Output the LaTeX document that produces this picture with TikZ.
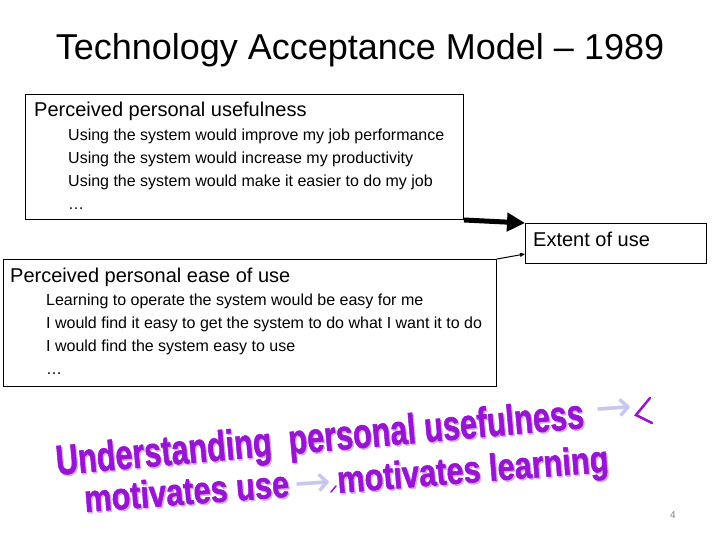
\documentclass[tikz,border=0pt]{standalone}
\usepackage{fontspec}
\usepackage{graphicx}
\setmainfont{Liberation Sans}
\newfontfamily\artfont{Liberation Sans}[FakeBold=1.5]
\newfontfamily\symfont{DejaVu Sans}
\usetikzlibrary{arrows.meta}
\definecolor{artpurple}{RGB}{150,20,210}
\definecolor{artlight}{RGB}{222,165,238}
\definecolor{artarrow}{RGB}{200,200,238}
\newcommand\artshade[1]{\makebox[0pt][l]{\kern1.6pt\raisebox{-1.6pt}{\color{artlight}#1}}#1}
\begin{document}
\begin{tikzpicture}[x=1pt,y=-1pt,
  box/.style={draw, line width=1pt, anchor=north west, inner sep=0pt},
  head/.style={anchor=base west, inner sep=0pt, font=\fontsize{20}{24}\selectfont},
  item/.style={anchor=base west, inner sep=0pt, font=\fontsize{16}{20}\selectfont},
  art/.style={anchor=base west, inner sep=0pt, text=artpurple, font=\artfont\bfseries},
  artarr/.style={inner sep=0pt, text=artarrow, font=\symfont\fontsize{44}{46}\selectfont}]
\useasboundingbox (0,0) rectangle (720,540);
\node[anchor=base, inner sep=0pt, font=\fontsize{36}{40}\selectfont] (title) at (360,60) {Technology Acceptance Model -- 1989};

\node[box, minimum width=438pt, minimum height=125pt] (pu) at (25,94) {};
\node[box, minimum width=493pt, minimum height=127pt] (eou) at (3,259) {};
\node[box, minimum width=181pt, minimum height=40pt] (use) at (525,223) {};

\node[head] (puhead) at (34,117) {Perceived personal usefulness};
\foreach \t [count=\i] in {Using the system would improve my job performance,
  Using the system would increase my productivity,
  Using the system would make it easier to do my job, \dots}
  \node[item] (pu\i) at (68,{140.5+23*(\i-1)}) {\t};

\node[head] (usehead) at (533,247) {Extent of use};

\node[head] (eouhead) at (10,282) {Perceived personal ease of use};
\foreach \t [count=\i] in {Learning to operate the system would be easy for me,
  I would find it easy to get the system to do what I want it to do,
  I would find the system easy to use, \dots}
  \node[item] (eou\i) at (46,{305.5+23*(\i-1)}) {\t};

\path[draw, line width=5pt, -{Triangle[length=18pt,width=18pt]}] (pu.south east) -- (use.north west);
\path[draw, line width=1pt, -{Triangle[length=5pt,width=4pt]}] (eou.north east) -- ([yshift=10pt]use.south west);

\node[art, rotate=5.1] (art1) at (57,475) {\fontsize{42}{46}\selectfont\scalebox{0.73}[1]{\artshade{Understanding\ \ personal usefulness}}};
\node[artarr, rotate=4] (arr1) at (614,411) {→};
\path[draw=artpurple, line width=2.5pt, line cap=round] (650,398) -- (636,415) -- (652,423);
\node[art, rotate=4.3] (art2) at (85,512) {\fontsize{38}{42}\selectfont\scalebox{0.81}[1]{\artshade{motivates use}}};
\node[artarr, rotate=4] (arr2) at (313,486) {→};
\path[draw=artpurple, line width=1.5pt, line cap=round] (331,492) -- (336,486);
\node[art, rotate=4.5] (art3) at (338,493) {\fontsize{38}{42}\selectfont\scalebox{0.81}[1]{\artshade{motivates learning}}};

\node[inner sep=0pt, text=gray, font=\fontsize{10}{12}\selectfont] (page) at (673,515) {4};
\end{tikzpicture}
\end{document}
